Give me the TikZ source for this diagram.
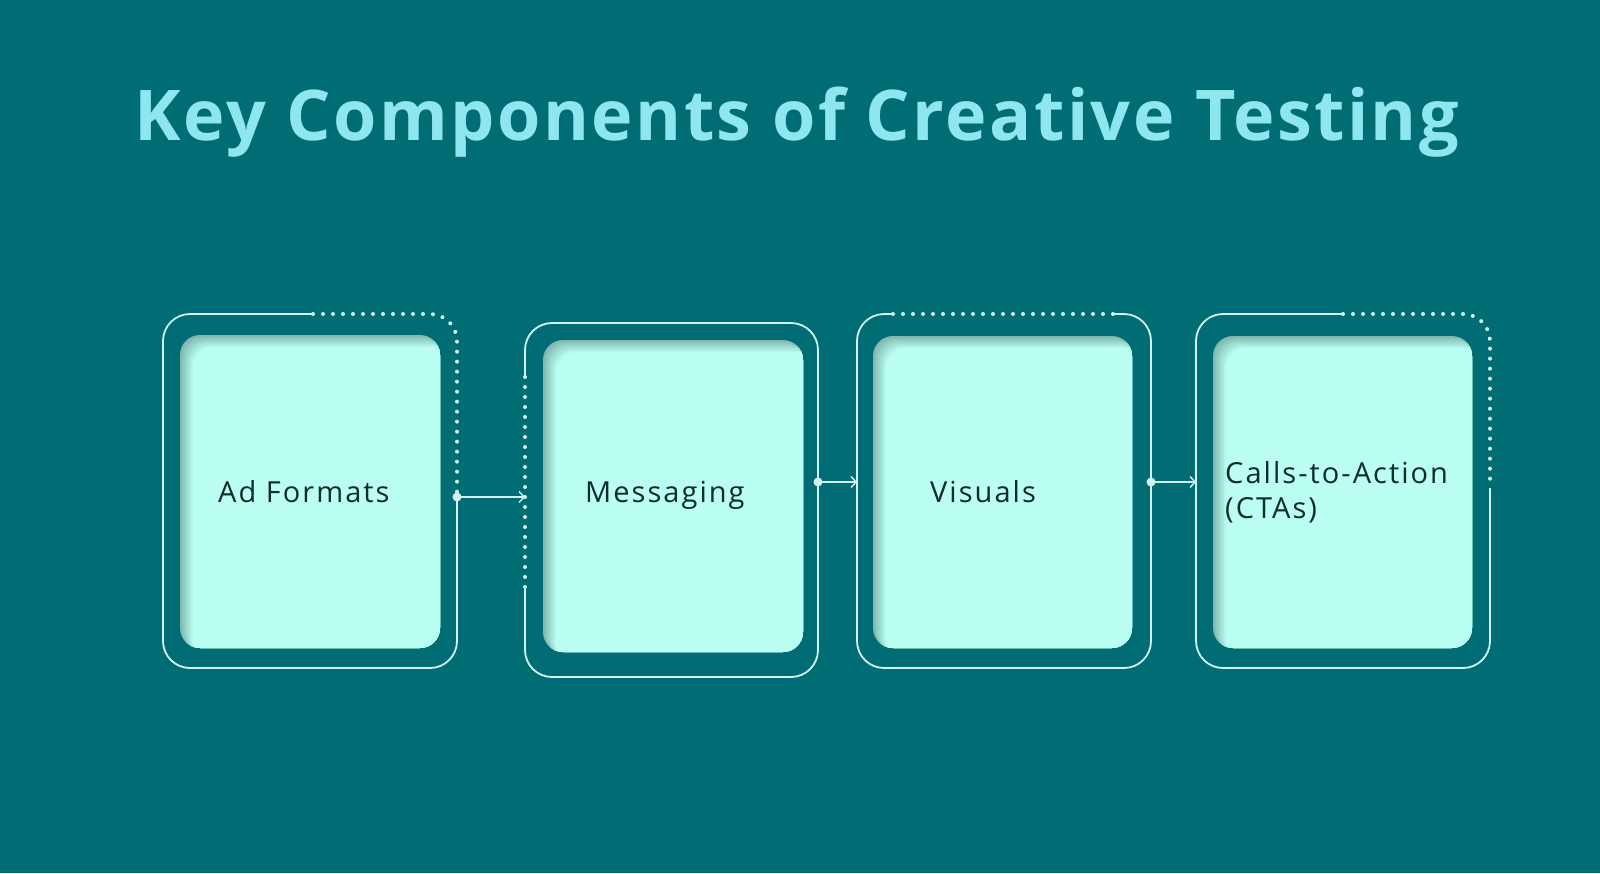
\documentclass[tikz,border=0pt]{standalone}
\usepackage{fontspec}
\setmainfont{Open Sans}
\newfontfamily\titlefont[LetterSpace=3.5]{Open Sans}
\newfontfamily\cardfont[LetterSpace=7]{Open Sans}
\usetikzlibrary{arrows.meta}

\definecolor{page bg}{HTML}{006D75}
\definecolor{title ink}{HTML}{8EE6EE}
\definecolor{card fill}{HTML}{BAFFF2}
\definecolor{card shade}{HTML}{80B8AF}
\definecolor{frame line}{HTML}{D2F3EE}
\definecolor{card ink}{HTML}{0E2C30}

\def\cardone{(180,335) rectangle (440,648)}
\def\cardtwo{(543,340) rectangle (803,652)}
\def\cardthree{(873,336) rectangle (1132,648)}
\def\cardfour{(1213,336) rectangle (1472,648)}

\tikzset{solidframe/.style={draw=frame line, line width=1.8pt, rounded corners=27pt},
    dotframe/.style={draw=frame line, line width=4pt, line cap=round,
        dash pattern=on 0pt off 10pt, rounded corners=27pt},
    link/.style={draw=frame line, line width=1.4pt, -{Straight Barb[length=5pt,width=11pt]}},
    cardtext/.style={text=card ink, font=\cardfont\fontsize{29}{35}\selectfont, inner sep=0pt}}

% one card with its inner shadow on the top and left
\newcommand\shadedcard[1]{%
  \begin{scope}
    \clip[rounded corners=20pt] #1;
    \fill[card shade] #1;
    \foreach \k in {1,...,8}{
      \pgfmathsetmacro\mix{100-12.5*\k}
      \fill[card shade!\mix!card fill, rounded corners=20pt,
        xshift=1.6*\k pt, yshift=-1.5*\k pt] #1;
    }
  \end{scope}}

\begin{document}
\begin{tikzpicture}[x=1pt, y=-1pt]
  \useasboundingbox (0,0) rectangle (1600,873);
  \fill[page bg] (0,0) rectangle (1600,873);

  \node[text=title ink, anchor=base, inner sep=0pt,
    font=\titlefont\fontsize{70}{80}\selectfont\bfseries] (title) at (797,140)
    {Key Components of Creative Testing};

  \shadedcard{\cardone}
  \shadedcard{\cardtwo}
  \shadedcard{\cardthree}
  \shadedcard{\cardfour}

  % frames, partly dotted
  \draw[solidframe] (313,314) -- (163,314) -- (163,668) -- (457,668) -- (457,497);
  \draw[dotframe] (313,314) -- (457,314) -- (457,497);
  \draw[solidframe] (525,377) -- (525,323) -- (818,323) -- (818,677) -- (525,677) -- (525,588);
  \draw[dotframe] (525,377) -- (525,588);
  \draw[solidframe] (893,314) -- (857,314) -- (857,668) -- (1151,668) -- (1151,314) -- (1115,314);
  \draw[dotframe] (893,314) -- (1115,314);
  \draw[solidframe] (1343,314) -- (1196,314) -- (1196,668) -- (1490,668) -- (1490,488);
  \draw[dotframe] (1343,314) -- (1490,314) -- (1490,488);

  \coordinate (out1) at (457,497);
  \coordinate (in2) at (525,497);
  \coordinate (out2) at (818,482);
  \coordinate (in3) at (857,482);
  \coordinate (out3) at (1151,482);
  \coordinate (in4) at (1196,482);
  \foreach \a/\b in {out1/in2, out2/in3, out3/in4}{
    \fill[frame line] (\a) circle (4.5pt);
    \draw[link] (\a) -- (\b);
  }

  \node[cardtext, anchor=base west] (formats) at (218,502) {Ad Formats};
  \node[cardtext, anchor=base west] (messaging) at (585,502) {Messaging};
  \node[cardtext, anchor=base west] (visuals) at (930,502) {Visuals};
  \node[cardtext, anchor=west, align=left] (ctas) at (1225,492) {Calls-to-Action\\(CTAs)};
\end{tikzpicture}
\end{document}
